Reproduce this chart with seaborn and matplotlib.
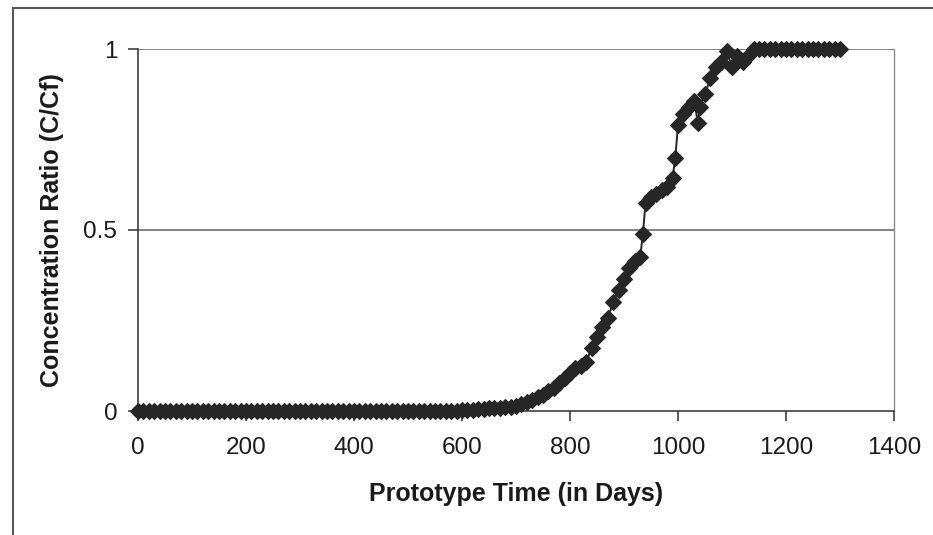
import matplotlib
matplotlib.use("Agg")
import matplotlib.pyplot as plt
import seaborn as sns
import pandas as pd
from matplotlib.lines import Line2D

# Breakthrough curve: prototype time (days) vs. concentration ratio C/Cf
days = [
    0, 10, 20, 30, 40, 50, 60, 70, 80, 90,
    100, 110, 120, 130, 140, 150, 160, 170, 180, 190,
    200, 210, 220, 230, 240, 250, 260, 270, 280, 290,
    300, 310, 320, 330, 340, 350, 360, 370, 380, 390,
    400, 410, 420, 430, 440, 450, 460, 470, 480, 490,
    500, 510, 520, 530, 540, 550, 560, 570, 580, 590,
    600, 610, 620, 630, 640, 650, 660, 670, 680, 690,
    700, 710, 720, 730, 740, 750, 760, 770, 780, 790,
    800, 810, 820, 830, 840, 850, 860, 870, 880, 890,
    900, 910, 920, 930, 935, 940, 950, 960, 970, 980,
    990, 995, 1000, 1010, 1020, 1030, 1037, 1040, 1050, 1060,
    1070, 1080, 1090, 1100, 1110, 1120, 1130, 1140, 1150, 1160,
    1170, 1180, 1190, 1200, 1210, 1220, 1230, 1240, 1250, 1260,
    1270, 1280, 1290, 1300,
]
ratio = [
    0, 0, 0, 0, 0, 0, 0, 0, 0, 0,
    0, 0, 0, 0, 0, 0, 0, 0, 0, 0,
    0, 0, 0, 0, 0, 0, 0, 0, 0, 0,
    0, 0, 0, 0, 0, 0, 0, 0, 0, 0,
    0, 0, 0, 0, 0, 0, 0, 0, 0, 0,
    0, 0, 0, 0, 0, 0, 0, 0, 0, 0,
    0.002, 0.003, 0.004, 0.005, 0.006, 0.007, 0.008, 0.009, 0.010, 0.012,
    0.015, 0.018, 0.024, 0.030, 0.038, 0.045, 0.055, 0.064, 0.076, 0.090,
    0.105, 0.118, 0.125, 0.135, 0.175, 0.205, 0.232, 0.258, 0.300, 0.335,
    0.365, 0.395, 0.415, 0.425, 0.490, 0.575, 0.590, 0.600, 0.610, 0.620,
    0.645, 0.700, 0.790, 0.820, 0.840, 0.855, 0.795, 0.840, 0.875, 0.920,
    0.950, 0.965, 0.995, 0.950, 0.980, 0.965, 0.980, 1.0, 1.0, 1.0,
    1.0, 1.0, 1.0, 1.0, 1.0, 1.0, 1.0, 1.0, 1.0, 1.0,
    1.0, 1.0, 1.0, 1.0,
]
x_ticks = [0, 200, 400, 600, 800, 1000, 1200, 1400]
y_ticks = [0, 0.5, 1]
y_tick_labels = ["0", "0.5", "1"]

df = pd.DataFrame({"Prototype Time (in Days)": days,
                   "Concentration Ratio (C/Cf)": ratio})

sns.set_style("white")
plt.rcParams["font.family"] = ["Liberation Sans", "DejaVu Sans"]

fig = plt.figure(figsize=(9.33, 5.35), dpi=100)
ax = fig.add_axes([138 / 933, 1 - 411 / 535, (894 - 138) / 933, (411 - 49) / 535])

ink = "#262626"
sns.lineplot(data=df, x="Prototype Time (in Days)", y="Concentration Ratio (C/Cf)",
             ax=ax, color=ink, linewidth=1.4, marker="D", markersize=8.5,
             markeredgecolor=ink, markerfacecolor=ink, markeredgewidth=0.8,
             clip_on=False, zorder=5)

ax.set_xlim(0, 1400)
ax.set_ylim(0, 1)
ax.set_xticks(x_ticks)
ax.set_xticklabels([str(t) for t in x_ticks])
ax.set_yticks(y_ticks)
ax.set_yticklabels(y_tick_labels)

# horizontal gridlines at the major y ticks
for yv in y_ticks[1:]:
    ax.axhline(yv, color="#606060", linewidth=1.1, zorder=1)

for side in ("left", "bottom"):
    ax.spines[side].set_color("#303030")
    ax.spines[side].set_linewidth(1.1)
ax.spines["top"].set_visible(False)
ax.spines["right"].set_color("#8a8a8a")
ax.spines["right"].set_linewidth(1.0)

ax.tick_params(axis="both", direction="out", length=7, width=1.1,
               color="#303030", labelsize=17.5, labelcolor="#1a1a1a",
               left=True, bottom=True)
ax.tick_params(axis="x", pad=12)
ax.tick_params(axis="y", pad=8)

ax.set_xlabel("Prototype Time (in Days)", fontsize=18, fontweight="bold",
              color="#1a1a1a", labelpad=16)
ax.set_ylabel("Concentration Ratio (C/Cf)", fontsize=18, fontweight="bold",
              color="#1a1a1a", labelpad=14)

# outer chart frame
fig.add_artist(Line2D([13 / 933, 13 / 933], [0, 1 - 8 / 535],
                      transform=fig.transFigure, color="#555555", linewidth=1.5))
fig.add_artist(Line2D([13 / 933, 1], [1 - 8 / 535, 1 - 8 / 535],
                      transform=fig.transFigure, color="#555555", linewidth=1.5))

fig.savefig("out.png", dpi=100, facecolor="white")
